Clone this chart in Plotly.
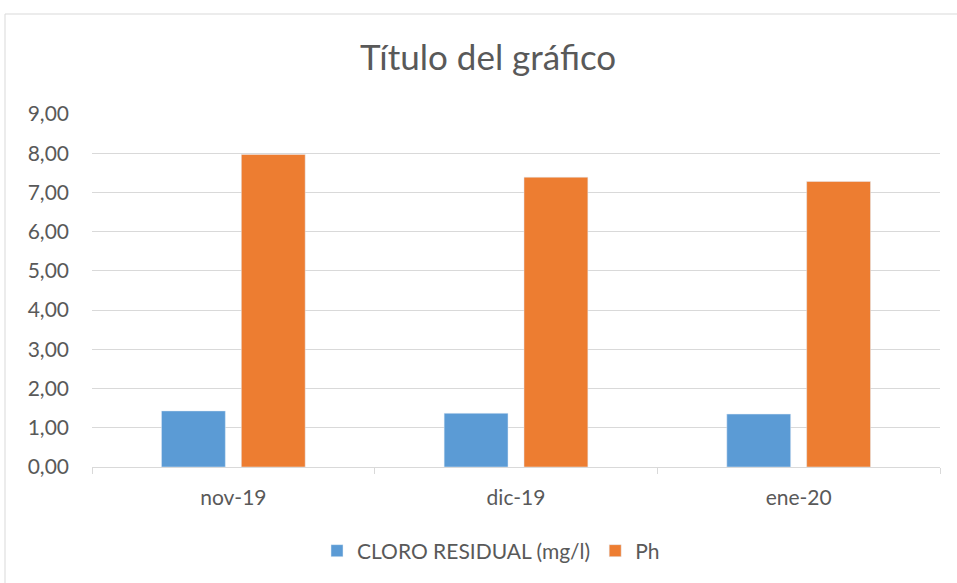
import plotly.graph_objects as go

categories = ["nov-19", "dic-19", "ene-20"]
cloro = [1.43, 1.37, 1.35]
ph = [7.97, 7.39, 7.28]
tick_vals = [0, 1, 2, 3, 4, 5, 6, 7, 8, 9]

L, R, T, B = 92, 17, 114, 116
W, H = 957, 583
pw, ph_ = W - L - R, H - T - B

def px_x(x):
    return (x - L) / pw

def px_y(y):
    return (H - B - y) / ph_

fig = go.Figure()
fig.add_trace(go.Bar(name="CLORO RESIDUAL (mg/l)", x=categories, y=cloro, marker_color="#5B9BD5"))
fig.add_trace(go.Bar(name="Ph", x=categories, y=ph, marker_color="#ED7D31"))

font = "Lato, Calibri, Carlito, sans-serif"
fig.update_layout(
    width=W, height=H,
    margin=dict(l=L, r=R, t=T, b=B),
    paper_bgcolor="white", plot_bgcolor="white",
    separators=",.",
    barmode="group", bargap=0.435, bargroupgap=0.2,
    font=dict(family=font, size=21, color="#595959"),
    title=dict(text="Título del gráfico", x=0.51, xanchor="center", y=1 - 58 / H, yanchor="middle",
               font=dict(family=font, size=35, color="#595959")),
    showlegend=True,
    legend=dict(orientation="h", x=px_x(491), xanchor="center", y=px_y(551), yanchor="middle",
                font=dict(family=font, size=21, color="#595959"), itemwidth=30, tracegroupgap=0),
    xaxis=dict(showline=True, linecolor="#d9d9d9", linewidth=1, ticks="outside", tickson="boundaries",
               ticklen=6, tickcolor="#d9d9d9", showgrid=False, ticklabelstandoff=12,
               tickfont=dict(size=21, color="#595959")),
    yaxis=dict(range=[0, 9], tickvals=tick_vals, tickformat=".2f", showgrid=True, gridcolor="#d9d9d9",
               gridwidth=1, zeroline=False, showline=False, ticks="", ticklabelstandoff=22,
               tickfont=dict(size=21, color="#595959")),
)
fig.add_shape(type="rect", xref="paper", yref="paper",
              x0=px_x(5), x1=px_x(W + 20), y0=px_y(H + 20), y1=px_y(14),
              line=dict(color="#d9d9d9", width=1), fillcolor="rgba(0,0,0,0)", layer="below")
fig.write_html("out.html", config={"displayModeBar": False},
               post_script="document.body.style.margin='0';document.body.style.overflow='hidden';")
